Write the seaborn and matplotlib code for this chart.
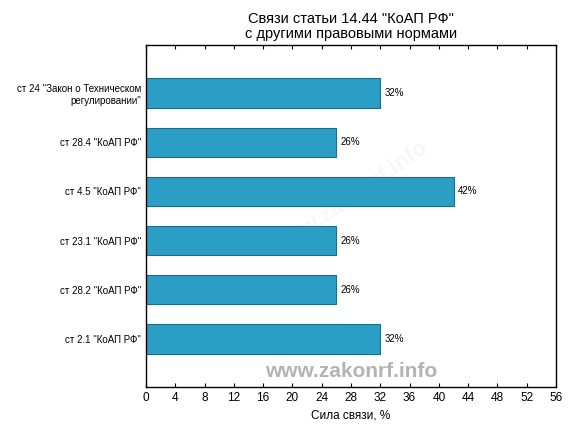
import numpy as np
import pandas as pd
import seaborn as sns
import matplotlib.pyplot as plt

labels = ['ст 24 "Закон о Техническом\nрегулировании"', 'ст 28.4 "КоАП РФ"', 'ст 4.5 "КоАП РФ"',
          'ст 23.1 "КоАП РФ"', 'ст 28.2 "КоАП РФ"', 'ст 2.1 "КоАП РФ"']
values = [32, 26, 42, 26, 26, 32]
value_text = ['32%', '26%', '42%', '26%', '26%', '32%']
xticks = list(range(0, 57, 4))

df = pd.DataFrame({'label': labels, 'value': values})

sns.set_style('white')
plt.rcParams['font.family'] = ['Liberation Sans', 'DejaVu Sans']
for k in ['text.color', 'axes.labelcolor', 'xtick.color', 'ytick.color']:
    plt.rcParams[k] = 'black'

fig = plt.figure(figsize=(5.76, 4.32), dpi=100)
ax = fig.add_axes([146/576, 1-387/432, 410/576, 342/432])

sns.barplot(data=df, y='label', x='value', orient='h', color='#2b9ec5', saturation=1,
            edgecolor='#1d6c88', linewidth=0.8, width=0.6, ax=ax)

# подписи процентов
for i, (v, t) in enumerate(zip(values, value_text)):
    ax.text(v + 0.6, i, t, va='center', ha='left', fontsize=7)

ax.set_xlim(0, 56)
ax.set_ylim(5.98, -0.98)
ax.set_xticks(xticks)
ax.set_xticklabels([str(x) for x in xticks], fontsize=8.5)
ax.tick_params(axis='y', labelsize=7, direction='in', length=3, left=True)
ax.tick_params(axis='x', direction='in', length=3, top=True, bottom=True)
ax.set_ylabel('')
ax.set_xlabel('Сила связи, %', fontsize=8.5)
for s in ax.spines.values():
    s.set_color('black')
    s.set_linewidth(1)

ax.set_title('Связи статьи 14.44 "КоАП РФ"\nс другими правовыми нормами', fontsize=10.5, pad=5, linespacing=1.1)

ax.text(0.5, 0.045, 'www.zakonrf.info', transform=ax.transAxes, ha='center', va='center',
        fontsize=15, fontweight='bold', color='#b3b3b3')
ax.text(0.5, 0.55, 'www.zakonrf.info', transform=ax.transAxes, ha='center', va='center',
        fontsize=16, fontweight='bold', color='#f7f7f7', rotation=35, zorder=0)

fig.savefig('out.png', dpi=100)
